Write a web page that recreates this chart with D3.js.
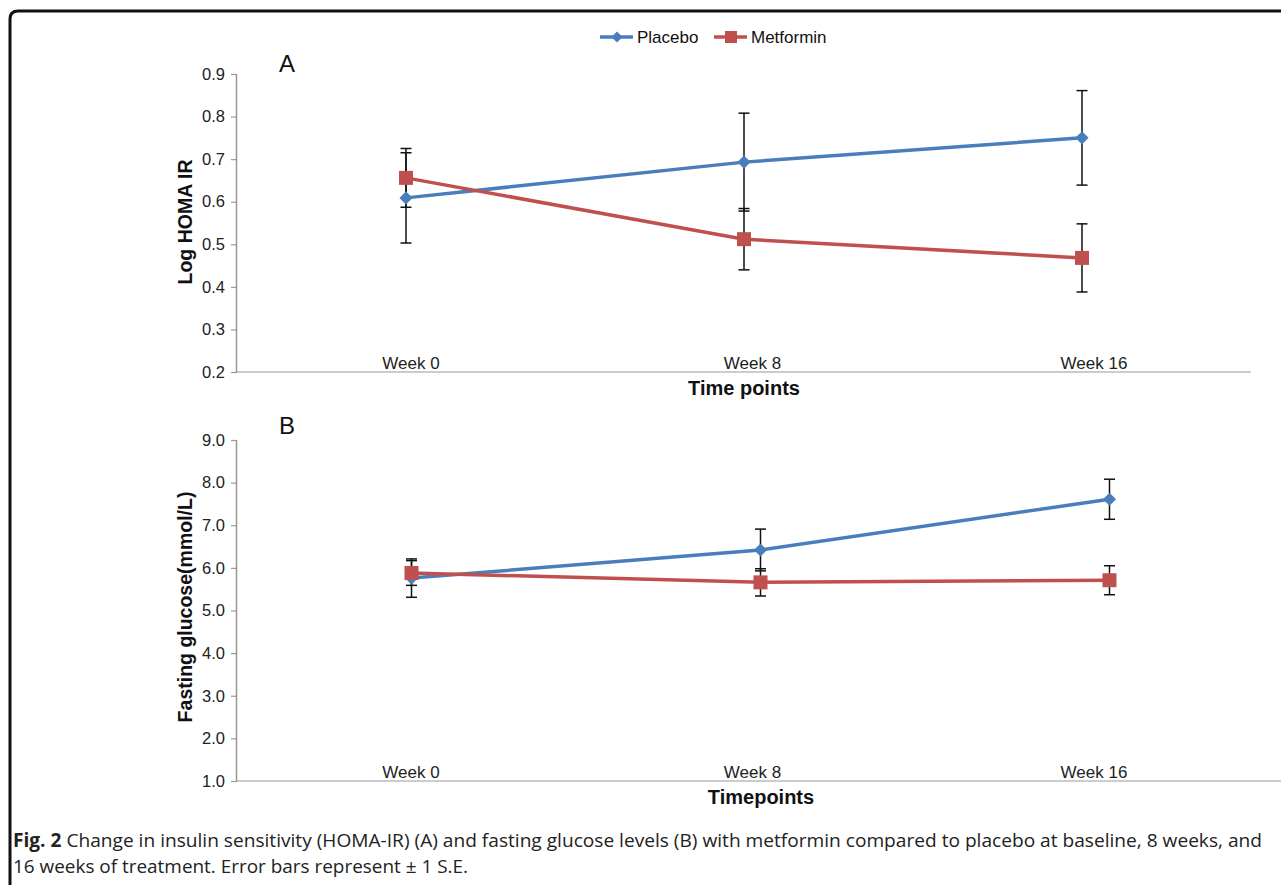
<!DOCTYPE html>
<html><head><meta charset="utf-8">
<script src="https://cdn.jsdelivr.net/npm/d3@7"></script>
<style>body{margin:0;background:#fff}svg{display:block}</style>
</head><body>
<script>
const categories = ["Week 0", "Week 8", "Week 16"];
// Panel A: Log HOMA IR
const homaPlacebo = [0.609, 0.693, 0.750];
const homaPlaceboSE = [0.106, 0.115, 0.111];
const homaMetformin = [0.656, 0.512, 0.468];
const homaMetforminSE = [0.069, 0.072, 0.080];
const homaTicks = [0.2, 0.3, 0.4, 0.5, 0.6, 0.7, 0.8, 0.9];
// Panel B: Fasting glucose
const gluPlacebo = [5.76, 6.42, 7.61];
const gluPlaceboSE = [0.45, 0.49, 0.47];
const gluMetformin = [5.88, 5.66, 5.71];
const gluMetforminSE = [0.29, 0.32, 0.34];
const gluTicks = [1, 2, 3, 4, 5, 6, 7, 8, 9];

const W = 1281, H = 885;
const BLUE = "#4a7ebb", RED = "#c0504d";
const FONT = "Liberation Sans, Arial, sans-serif";
const svg = d3.select("body").append("svg").attr("width", W).attr("height", H);

// frame
svg.append("path").attr("d", "M10,885 L10,19 Q10,11 18,11 L1281,11")
  .attr("fill", "none").attr("stroke", "#111").attr("stroke-width", 3);

// shared label scale
const xLab = d3.scalePoint().domain(categories).range([411, 1094]);

function panel(cfg) {
  const g = svg.append("g");
  const x = d3.scaleBand().domain(categories).range([cfg.x0, cfg.x1]).paddingInner(0).paddingOuter(0);
  const xc = d => x(d) + x.bandwidth() / 2;
  const y = d3.scaleLinear().domain(cfg.domain).range([cfg.yb, cfg.yt]);
  // y axis
  const ya = g.append("g").attr("transform", `translate(${cfg.x0},0)`)
    .call(d3.axisLeft(y).tickValues(cfg.ticks).tickFormat(cfg.fmt).tickSize(6).tickPadding(6));
  ya.select(".domain").attr("stroke", "#999").attr("stroke-width", 1.5).attr("d", `M-0.5,${cfg.yt}V${cfg.yb}`);
  ya.selectAll(".tick line").attr("stroke", "#999").attr("stroke-width", 1.2);
  ya.selectAll("text").attr("font-family", FONT).attr("font-size", 16.5).attr("fill", "#222");
  // x axis line
  g.append("line").attr("x1", cfg.x0).attr("x2", cfg.x1).attr("y1", cfg.yb).attr("y2", cfg.yb)
    .attr("stroke", "#bbb").attr("stroke-width", 1.5);
  // category labels (inside plot, above axis)
  g.selectAll(".cat").data(categories).enter().append("text")
    .attr("x", d => xLab(d)).attr("y", cfg.yb - 3)
    .attr("text-anchor", "middle").attr("font-family", FONT)
    .attr("font-size", 17).attr("fill", "#222").text(d => d);
  // axis titles
  g.append("text").attr("transform", `translate(192,${cfg.ytc}) rotate(-90)`)
    .attr("text-anchor", "middle").attr("font-family", FONT)
    .attr("font-weight", "bold").attr("font-size", 19.5).attr("fill", "#111").text(cfg.ytitle);
  g.append("text").attr("x", cfg.xtx).attr("y", cfg.xty)
    .attr("text-anchor", "middle").attr("font-family", FONT)
    .attr("font-weight", "bold").attr("font-size", 20).attr("fill", "#111").text(cfg.xtitle);
  // panel letter
  g.append("text").attr("x", 287).attr("y", cfg.letterY).attr("text-anchor", "middle")
    .attr("font-family", FONT).attr("font-size", 24).attr("fill", "#111").text(cfg.letter);

  const line = d3.line().x((d, i) => xc(categories[i])).y(d => y(d));
  const series = [
    { v: cfg.pl, se: cfg.plSE, c: BLUE, m: "diamond" },
    { v: cfg.mf, se: cfg.mfSE, c: RED, m: "square" }
  ];
  series.forEach(s => {
    g.append("path").datum(s.v).attr("d", line).attr("fill", "none")
      .attr("stroke", s.c).attr("stroke-width", 3.5);
  });
  series.forEach(s => {
    s.v.forEach((v, i) => {
      const cx = xc(categories[i]);
      const lo = y(v - s.se[i]), hi = y(v + s.se[i]);
      g.append("line").attr("x1", cx).attr("x2", cx).attr("y1", lo).attr("y2", hi)
        .attr("stroke", "#111").attr("stroke-width", 1.5);
      [lo, hi].forEach(yy => g.append("line").attr("x1", cx - 5.5).attr("x2", cx + 5.5)
        .attr("y1", yy).attr("y2", yy).attr("stroke", "#111").attr("stroke-width", 1.5));
    });
  });
  series.forEach(s => {
    s.v.forEach((v, i) => {
      const cx = xc(categories[i]), cy = y(v);
      if (s.m === "diamond") {
        g.append("path").attr("d", d3.symbol(d3.symbolDiamond2, 110)()).attr("transform", `translate(${cx},${cy})`)
          .attr("fill", s.c);
      } else {
        g.append("rect").attr("x", cx - 7).attr("y", cy - 7).attr("width", 14).attr("height", 14).attr("fill", s.c);
      }
    });
  });
}

panel({ x0: 237, x1: 1251, yt: 74, yb: 372, ytc: 222, domain: [0.2, 0.9], ticks: homaTicks, fmt: d3.format(".1f"),
  ytitle: "Log HOMA IR", xtitle: "Time points", xtx: 744, xty: 395, letter: "A", letterY: 72,
  pl: homaPlacebo, plSE: homaPlaceboSE, mf: homaMetformin, mfSE: homaMetforminSE });
panel({ x0: 237, x1: 1284, yt: 440, yb: 781, ytc: 607, domain: [1, 9], ticks: gluTicks, fmt: d3.format(".1f"),
  ytitle: "Fasting glucose(mmol/L)", xtitle: "Timepoints", xtx: 761, xty: 804, letter: "B", letterY: 434,
  pl: gluPlacebo, plSE: gluPlaceboSE, mf: gluMetformin, mfSE: gluMetforminSE });

// legend
const lg = svg.append("g").attr("font-family", FONT).attr("font-size", 17).attr("fill", "#111");
const legendItems = [{ name: "Placebo", c: BLUE, m: "diamond", x: 600 }, { name: "Metformin", c: RED, m: "square", x: 714 }];
legendItems.forEach(it => {
  lg.append("line").attr("x1", it.x).attr("x2", it.x + 33).attr("y1", 37).attr("y2", 37).attr("stroke", it.c).attr("stroke-width", 3.5);
  if (it.m === "diamond") lg.append("path").attr("d", d3.symbol(d3.symbolDiamond2, 80)()).attr("transform", `translate(${it.x + 17},37)`).attr("fill", it.c);
  else lg.append("rect").attr("x", it.x + 11).attr("y", 31).attr("width", 12).attr("height", 12).attr("fill", it.c);
  lg.append("text").attr("x", it.x + 37).attr("y", 43).text(it.name);
});

// caption
const cap = svg.append("g").attr("font-family", "Open Sans, sans-serif").attr("font-size", 19).attr("fill", "#222");
const t1 = cap.append("text").attr("x", 13).attr("y", 847).attr("textLength", 1249).attr("lengthAdjust", "spacingAndGlyphs");
t1.append("tspan").attr("font-weight", "bold").text("Fig. 2");
t1.append("tspan").text(" Change in insulin sensitivity (HOMA-IR) (A) and fasting glucose levels (B) with metformin compared to placebo at baseline, 8 weeks, and");
cap.append("text").attr("x", 13).attr("y", 873).attr("textLength", 455).attr("lengthAdjust", "spacingAndGlyphs")
  .text("16 weeks of treatment. Error bars represent ± 1 S.E.");
</script>
</body></html>
